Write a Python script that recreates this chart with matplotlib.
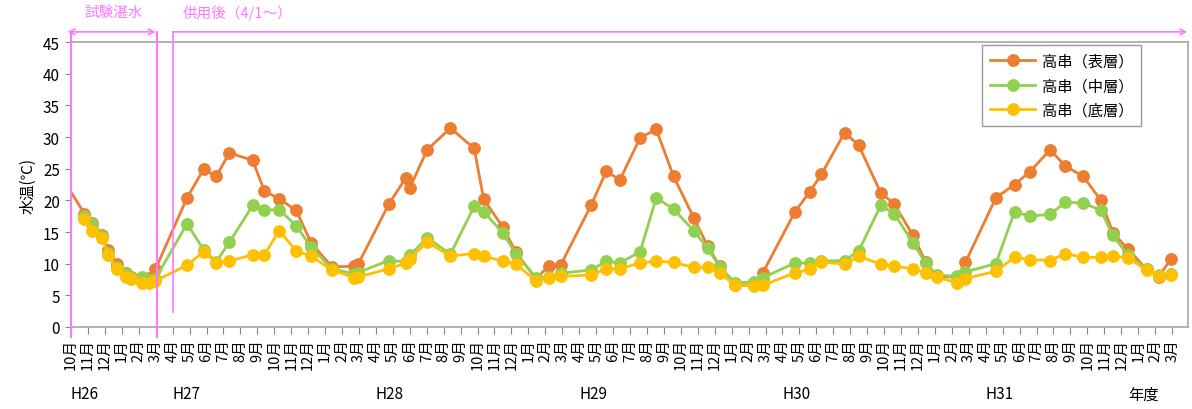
import matplotlib
matplotlib.use("Agg")
import matplotlib.pyplot as plt
from matplotlib.transforms import blended_transform_factory

plt.rcParams['font.family'] = ['Noto Sans CJK JP', 'DejaVu Sans']

# ---- data -------------------------------------------------------------
# survey positions in months counted from 1 Oct 2014 (H26 10月)
survey_month = [0.79, 1.26, 1.85, 2.2, 2.7, 3.23, 3.54, 4.17, 4.62, 4.98,
                6.85, 7.83, 8.58, 9.35, 10.73, 11.41, 12.3, 13.3, 14.17, 15.4, 16.7, 16.95,
                18.76, 19.78, 20.0, 21.03, 22.4, 23.8, 24.36, 25.48, 26.27, 27.45, 28.2, 28.9,
                30.7, 31.6, 32.4, 33.6, 34.55, 35.57, 36.77, 37.58, 38.3, 39.2, 40.3, 40.85,
                42.74, 43.6, 44.3, 45.67, 46.5, 47.8, 48.6, 49.7, 50.45, 51.1, 52.3, 52.8,
                54.6, 55.7, 56.6, 57.8, 58.7, 59.75, 60.8, 61.5, 62.4, 63.5, 64.2, 64.95]

surface_first_month = -0.3
surface_first_value = 22.6

surface = [17.9, 16.5, 14.5, 12.2, 9.9, 8.5, 7.9, 7.8, 7.8, 9.1,
           20.4, 24.9, 23.8, 27.5, 26.3, 21.5, 20.2, 18.4, 13.3, 9.5, 9.6, 9.9,
           19.4, 23.6, 21.95, 28.0, 31.4, 28.2, 20.2, 15.8, 11.8, 7.6, 9.65, 9.75,
           19.2, 24.6, 23.2, 29.9, 31.2, 23.8, 17.2, 12.8, 9.6, 6.7, 6.6, 8.6,
           18.2, 21.3, 24.1, 30.7, 28.7, 21.2, 19.4, 14.5, 10.3, 8.0, 7.9, 10.2,
           20.4, 22.5, 24.5, 28.0, 25.4, 23.8, 20.0, 14.9, 12.3, 9.1, 7.9, 10.8]

middle = [17.6, 16.3, 14.3, 11.7, 9.4, 8.3, 7.8, 7.9, 7.5, 7.6,
          16.3, 12.2, 10.3, 13.4, 19.2, 18.5, 18.5, 16.0, 12.6, 9.2, 8.4, 8.6,
          10.5, 10.3, 11.3, 14.1, 11.5, 19.05, 18.2, 14.9, 11.5, 7.8, 7.9, 8.5,
          9.0, 10.4, 10.1, 11.9, 20.4, 18.6, 15.2, 12.4, 9.5, 7.0, 7.1, 7.8,
          10.1, 10.1, 10.4, 10.5, 12.0, 19.2, 17.9, 13.3, 10.1, 8.2, 8.0, 8.7,
          10.0, 18.2, 17.5, 17.8, 19.7, 19.6, 18.4, 14.5, 11.3, 9.2, 8.2, 8.4]

bottom = [17.0, 15.2, 14.1, 11.3, 9.1, 7.9, 7.55, 7.0, 7.0, 7.3,
          9.75, 11.9, 10.1, 10.4, 11.4, 11.4, 15.2, 12.0, 11.2, 9.0, 7.8, 7.9,
          9.2, 10.1, 10.8, 13.4, 11.2, 11.6, 11.2, 10.4, 9.9, 7.3, 7.8, 8.0,
          8.2, 9.2, 9.2, 10.1, 10.4, 10.2, 9.4, 9.4, 8.55, 6.6, 6.5, 6.6,
          8.55, 9.1, 10.3, 9.9, 11.2, 9.9, 9.6, 9.2, 8.55, 7.9, 7.0, 7.65,
          8.8, 11.0, 10.65, 10.5, 11.6, 11.0, 11.0, 11.2, 10.9, 9.0, 8.0, 8.2]

series_names = ['高串（表層）', '高串（中層）', '高串（底層）']
series_colors = ['#ED7D31', '#92D050', '#FFC000']

month_numbers = [10, 11, 12, 1, 2, 3] + [4, 5, 6, 7, 8, 9, 10, 11, 12, 1, 2, 3] * 5
month_labels = [f'{m}月' for m in month_numbers]
fiscal_years = ['H26', 'H27', 'H28', 'H29', 'H30', 'H31']
fiscal_year_start = [0, 6, 18, 30, 42, 54]

pink = '#FF77FF'

# ---- figure -----------------------------------------------------------
fig = plt.figure(figsize=(11.92, 4.10), dpi=100)
ax = fig.add_axes([71 / 1192, 1 - 328 / 410, 1117 / 1192, 285 / 410])

ax.plot([surface_first_month] + survey_month, [surface_first_value] + surface,
        color=series_colors[0], lw=2.0, zorder=3)
ax.plot(survey_month, surface, color=series_colors[0], lw=0, marker='o',
        markersize=8.2, label=series_names[0], zorder=3)
ax.plot(survey_month, middle, color=series_colors[1], lw=2.0, marker='o',
        markersize=8.2, label=series_names[1], zorder=4)
ax.plot(survey_month, bottom, color=series_colors[2], lw=2.0, marker='o',
        markersize=8.2, label=series_names[2], zorder=5)

ax.set_xlim(0, 65.94)
ax.set_ylim(0, 45)
ax.set_yticks(range(0, 46, 5))
ax.set_xticks(range(len(month_labels)))
ax.set_xticklabels(month_labels, rotation=90, fontsize=10.5, va='top', ha='center')
ax.tick_params(axis='y', labelsize=11, length=4, color='#868686', pad=4)
ax.tick_params(axis='x', length=5, color='#868686', pad=3)
for s in ax.spines.values():
    s.set_color('#A6A6A6')
    s.set_linewidth(1.2)
ax.set_ylabel('水温(℃)', fontsize=11, labelpad=5)

# fiscal year labels
tr = blended_transform_factory(ax.transData, ax.transAxes)
for fy, pos in zip(fiscal_years, fiscal_year_start):
    ax.text(pos, -0.235, fy, transform=tr, fontsize=11, ha='left', va='center')
ax.text(63.3, -0.235, '年度', transform=tr, fontsize=11, ha='center', va='center')

# legend
handles = [plt.Line2D([], [], color=c, lw=2.0, marker='o', markersize=8.2) for c in series_colors]
leg = ax.legend(handles, series_names, loc='upper left', bbox_to_anchor=(0.8156, 0.99),
                borderaxespad=0, fontsize=11, frameon=True, fancybox=False,
                edgecolor='#808080', handlelength=3.0, labelspacing=0.5,
                borderpad=0.5, handletextpad=0.4)
leg.get_frame().set_linewidth(1.0)

# pink annotations (construction phases)
top_y = 46.6
ax.plot([0, 0], [-1.5, top_y], color=pink, lw=1.5, clip_on=False, zorder=6)
ax.plot([5.08, 5.08], [-1.5, top_y], color=pink, lw=1.5, clip_on=False, zorder=6)
ax.plot([6.0, 6.0], [2.4, top_y], color=pink, lw=1.2, clip_on=False, zorder=6)
ax.annotate('', xy=(-0.2, top_y), xytext=(5.0, top_y), annotation_clip=False,
            arrowprops=dict(arrowstyle='<->', color=pink, lw=1.2, shrinkA=0, shrinkB=0))
ax.annotate('', xy=(65.9, top_y), xytext=(6.0, top_y), annotation_clip=False,
            arrowprops=dict(arrowstyle='->', color=pink, lw=1.2, shrinkA=0, shrinkB=0))
ax.text(2.5, 49.7, '試験湛水', color=pink, fontsize=10.5, ha='center', va='center')
ax.text(6.6, 49.7, '供用後（4/1～）', color=pink, fontsize=10.5, ha='left', va='center')

fig.savefig('out.png', dpi=100)
